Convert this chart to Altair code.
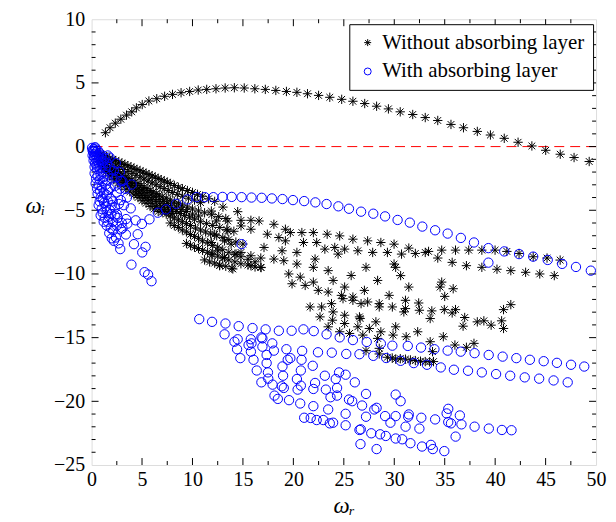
import altair as alt
import pandas as pd

# ---------------- data ----------------
series_names = ["Without absorbing layer", "With absorbing layer"]

# black stars: upper arc
arc_x = [1.37, 1.83, 2.35, 2.90, 3.46, 3.98, 4.44, 5.02, 5.68, 6.46, 7.24, 8.02, 8.87, 9.72,
         10.57, 11.41, 12.33, 13.24, 14.15, 15.13, 16.18, 17.22, 18.26, 19.31, 20.35, 21.40,
         22.50, 23.61, 24.79, 25.90, 27.07, 28.25, 29.42, 30.59, 31.83, 33.07, 34.31, 35.62,
         36.86, 38.23, 39.53, 40.90, 42.27, 43.64, 45.01, 46.45, 47.82, 49.32]
arc_y = [1.09, 1.48, 1.84, 2.15, 2.47, 2.73, 3.04, 3.30, 3.58, 3.76, 3.95, 4.10, 4.23, 4.33,
         4.44, 4.49, 4.54, 4.60, 4.62, 4.60, 4.54, 4.49, 4.41, 4.33, 4.26, 4.15, 4.02, 3.87,
         3.71, 3.56, 3.38, 3.17, 2.96, 2.73, 2.52, 2.28, 2.05, 1.74, 1.48, 1.19, 0.91, 0.65,
         0.34, 0.05, -0.29, -0.60, -0.86, -1.17]

# black stars: dense fan of bands leaving the origin
fan_pts = [
    (0.6, -0.5), (0.9, -0.6), (1.2, -0.7), (1.5, -0.8), (1.8, -0.9), (2.1, -1.0), (2.4, -1.1),
    (2.7, -1.2), (3.0, -1.3), (3.3, -1.4), (3.6, -1.5), (3.9, -1.6), (4.2, -1.7), (4.5, -1.8),
    (4.8, -1.9), (5.1, -2.0), (5.4, -2.1), (5.7, -2.2), (6.0, -2.3), (6.3, -2.4), (6.6, -2.5),
    (6.9, -2.6), (7.2, -2.7), (7.5, -2.8), (7.8, -2.9), (8.2, -3.05), (8.6, -3.2), (9.0, -3.3),
    (9.5, -3.45), (10.0, -3.6), (10.5, -3.75), (11.0, -3.9), (11.6, -4.1), (12.2, -4.3),
    (1.6, -1.15), (2.0, -1.3), (2.4, -1.45), (2.8, -1.6), (3.2, -1.8), (3.6, -1.95), (4.0, -2.1),
    (4.4, -2.25), (4.8, -2.4), (5.2, -2.55), (5.6, -2.7), (6.0, -2.85), (6.4, -3.0), (6.8, -3.15),
    (7.2, -3.3), (7.6, -3.45), (8.0, -3.6), (8.5, -3.75), (9.0, -3.9), (9.6, -4.05), (10.2, -4.2),
    (10.8, -4.4),
    (0.7, -0.8), (1.0, -1.1), (1.3, -1.3), (1.6, -1.5), (1.9, -1.65), (2.2, -1.8), (2.5, -1.95),
    (2.8, -2.1), (3.1, -2.25), (3.4, -2.4), (3.7, -2.5), (4.0, -2.65), (4.3, -2.8), (4.6, -2.9),
    (4.9, -3.05), (5.2, -3.2), (5.5, -3.3), (5.8, -3.45), (6.1, -3.55), (6.4, -3.7), (6.7, -3.8),
    (7.0, -3.95), (7.4, -4.05), (7.8, -4.2), (8.2, -4.35), (8.6, -4.45), (9.0, -4.6), (9.5, -4.75),
    (10.0, -4.9), (10.6, -5.05), (11.2, -5.2), (11.9, -5.35), (12.6, -5.5), (13.3, -5.65),
    (1.9, -1.85), (2.3, -2.05), (2.7, -2.25), (3.1, -2.45), (3.5, -2.65), (3.9, -2.85),
    (4.3, -3.05), (4.7, -3.25), (5.1, -3.4), (5.5, -3.6), (5.9, -3.8), (6.3, -3.95), (6.7, -4.15),
    (7.1, -4.3), (7.5, -4.45), (7.9, -4.6), (8.4, -4.75), (8.9, -4.95), (9.4, -5.1), (10.0, -5.3),
    (10.6, -5.45),
    (0.8, -1.2), (1.1, -1.5), (1.4, -1.75), (1.7, -1.95), (2.0, -2.15), (2.3, -2.3), (2.6, -2.5),
    (2.9, -2.65), (3.2, -2.8), (3.5, -2.95), (3.8, -3.1), (4.1, -3.25), (4.4, -3.4), (4.7, -3.55),
    (5.0, -3.7), (5.3, -3.85), (5.6, -4.0), (6.0, -4.15), (6.4, -4.3), (6.8, -4.5), (7.2, -4.65),
    (7.6, -4.8), (8.0, -4.95), (8.4, -5.1), (8.8, -5.25), (9.2, -5.4), (9.7, -5.55), (10.2, -5.7),
    (10.8, -5.9), (11.4, -6.05), (12.0, -6.2), (12.7, -6.35), (13.4, -6.5), (14.1, -6.65),
    (4.4, -3.65), (4.8, -3.85), (5.2, -4.05), (5.6, -4.25), (6.0, -4.45), (6.4, -4.65),
    (6.8, -4.8), (7.2, -4.95), (7.6, -5.1), (8.0, -5.25),
    (1.0, -1.6), (1.4, -2.0), (1.8, -2.3), (2.2, -2.6), (2.6, -2.85), (3.0, -3.1), (3.4, -3.35),
    (3.8, -3.55), (4.2, -3.8), (4.6, -4.0), (5.0, -4.25), (5.4, -4.45), (5.8, -4.7), (6.2, -4.9),
    (6.6, -5.1), (7.0, -5.15), (7.4, -5.3), (7.8, -5.45), (8.2, -5.6), (8.6, -5.75), (9.0, -5.9),
    (9.4, -6.05), (9.8, -6.2), (10.3, -6.4), (10.8, -6.55), (11.3, -6.7), (11.8, -6.85),
    (12.4, -7.0), (13.0, -7.15), (13.6, -7.3), (14.3, -7.5), (15.0, -7.65),
    (7.8, -6.0), (8.2, -6.2), (8.6, -6.35), (9.0, -6.55), (9.4, -6.7), (9.8, -6.9), (10.2, -7.05),
    (10.6, -7.2), (11.0, -7.4), (11.5, -7.55), (12.0, -7.75), (12.5, -7.9), (13.0, -8.1),
    (13.6, -8.3), (14.2, -8.45), (14.8, -8.65), (15.5, -8.85), (16.2, -9.05),
    (9.4, -7.6), (9.8, -7.75), (10.2, -7.9), (10.6, -8.0), (11.0, -8.15), (11.5, -8.3),
    (12.0, -8.45), (12.5, -8.6), (13.0, -8.75), (13.6, -8.9), (14.2, -9.05), (14.8, -9.2),
    (15.5, -9.3), (16.2, -9.45), (16.8, -9.5),
    (11.2, -8.9), (11.7, -9.05), (12.2, -9.15), (12.7, -9.3), (13.3, -9.4), (13.9, -9.55),
]

# black stars: scattered cloud
cloud_pts = [
    (11.87, -5.06), (13.02, -4.75), (14.48, -5.11), (12.36, -5.84), (13.50, -5.84), (14.81, -5.79),
    (15.79, -5.79), (16.60, -5.84), (12.20, -6.88), (13.50, -6.62), (14.81, -6.23), (15.79, -6.49),
    (13.18, -7.40), (11.87, -7.53), (13.83, -7.66), (12.52, -8.18), (14.32, -8.44), (11.87, -8.44),
    (13.18, -8.70), (14.81, -8.31), (15.79, -8.57), (14.00, -9.61), (12.69, -9.35), (15.79, -9.35),
    (16.77, -9.48), (16.77, -8.75), (17.09, -7.92), (18.07, -6.10), (17.42, -6.88), (18.56, -7.14),
    (19.21, -6.49), (19.70, -6.75), (19.21, -7.40), (18.88, -8.18), (18.07, -8.83), (19.05, -8.96),
    (20.35, -8.31), (20.84, -6.75), (21.00, -7.53), (21.98, -6.75), (22.31, -7.53), (23.12, -8.05),
    (23.35, -6.88), (24.59, -7.01), (24.10, -7.92), (24.43, -8.44), (25.08, -8.05), (25.90, -7.27),
    (26.39, -8.18), (27.36, -7.40), (27.86, -8.31), (28.67, -7.53), (29.32, -8.31), (29.98, -7.66),
    (20.35, -9.22), (19.54, -10.00), (19.87, -10.77), (20.68, -10.25), (21.17, -10.90),
    (21.98, -10.64), (22.15, -8.83), (21.98, -9.48), (23.45, -9.74), (23.94, -10.51),
    (23.45, -11.42), (22.47, -11.29), (25.08, -11.03), (24.76, -11.68), (25.90, -11.81),
    (25.73, -10.12), (27.20, -9.48), (28.35, -10.51), (27.04, -11.29), (29.98, -9.22),
    (29.49, -11.68), (28.51, -12.33), (27.36, -12.20), (26.71, -12.33), (25.90, -12.07),
    (24.92, -11.94), (23.78, -12.33), (22.80, -12.59), (21.66, -12.59), (23.94, -12.98),
    (22.64, -13.37), (25.08, -13.24), (26.55, -13.37), (28.51, -12.59), (29.81, -12.59),
    (31.44, -7.97), (32.09, -8.39), (33.07, -8.31), (33.40, -8.23), (34.70, -8.13), (36.07, -8.13),
    (37.38, -8.13), (38.68, -8.13), (39.99, -8.13), (41.16, -8.23), (42.37, -8.39), (43.77, -8.65),
    (45.14, -8.75), (46.44, -8.91), (30.72, -8.44), (34.31, -8.75), (35.74, -9.09), (37.15, -9.35),
    (38.68, -9.48), (40.18, -9.63), (41.55, -9.74), (43.02, -9.87), (44.42, -10.00), (45.86, -10.13),
    (30.14, -9.48), (30.63, -10.13), (31.44, -11.03), (34.70, -10.64), (34.54, -11.03),
    (35.84, -11.16), (35.00, -11.76), (31.11, -12.07), (31.11, -12.72), (30.95, -12.98),
    (32.42, -12.28), (32.49, -12.85), (33.72, -12.90), (33.56, -13.50), (34.96, -12.80),
    (35.74, -13.06), (36.07, -12.80), (36.98, -13.42), (36.82, -14.10), (38.23, -13.76),
    (38.88, -13.68), (39.60, -14.02), (40.64, -13.68), (40.83, -14.28), (40.83, -12.80),
    (41.55, -12.41), (30.14, -14.15), (31.18, -14.93), (32.32, -14.54), (33.56, -15.32),
    (34.86, -14.93), (36.01, -15.58), (37.15, -15.76), (37.90, -15.45), (33.79, -16.10),
    (23.45, -14.15), (24.59, -14.54), (25.57, -14.67), (26.39, -14.15), (26.62, -13.50),
    (27.53, -14.28), (26.88, -14.80), (28.18, -13.76), (28.67, -14.54), (28.35, -15.06),
    (29.88, -14.80), (23.87, -13.63), (25.08, -13.89), (28.51, -15.84),
    (27.20, -16.02), (28.51, -16.28), (29.32, -16.54), (29.80, -16.60), (30.14, -16.69),
    (30.60, -16.65), (31.11, -16.69), (31.60, -16.75), (32.09, -16.80), (32.60, -16.85),
    (33.07, -16.88), (33.50, -16.90), (33.89, -16.88),
]

# blue circles: upper chain
chain_pts = [
    (6.56, -5.19), (7.37, -4.93), (8.38, -4.49), (9.49, -4.15), (10.40, -3.97), (11.22, -3.97),
    (12.07, -3.97), (12.98, -3.95), (13.89, -3.95), (14.87, -3.97), (15.85, -4.00), (16.86, -4.02),
    (17.87, -4.07), (18.92, -4.12), (19.96, -4.20), (21.07, -4.28), (22.18, -4.38), (23.29, -4.51),
    (24.46, -4.69), (25.51, -4.88), (26.71, -5.11), (27.92, -5.27), (29.09, -5.48), (30.33, -5.76),
    (31.54, -5.97), (32.78, -6.28), (34.05, -6.57), (35.29, -6.83), (36.60, -7.17), (37.90, -7.53),
    (39.33, -7.97), (40.90, -8.23), (42.37, -8.44), (43.77, -8.64), (45.21, -8.90), (46.64, -9.21),
    (48.01, -9.45), (49.48, -9.74), (39.33, -9.11), (14.87, -7.66),
]

# blue circles: cluster near the origin
origin_pts = [
    (0.05, -0.1), (0.2, -0.2), (0.4, -0.15), (0.6, -0.3), (0.15, -0.4), (0.35, -0.05),
    (0.1, -0.3), (0.3, -0.35), (0.45, -0.45), (0.65, -0.65), (0.25, -0.8),
    (0.1, -0.7), (0.3, -0.6), (0.5, -0.7), (0.8, -0.5), (1.0, -0.7), (1.8, -0.86), (1.6, -0.7),
    (0.7, -0.9), (0.35, -1.3), (0.75, -1.4), (1.0, -1.3), (1.3, -0.9), (0.55, -1.75),
    (0.2, -1.1), (0.4, -1.0), (0.6, -1.2), (0.9, -1.0), (1.2, -1.1), (1.5, -1.3), (2.4, -1.3),
    (0.3, -1.6), (0.5, -1.5), (0.8, -1.7), (1.1, -1.5), (1.4, -1.7), (1.8, -1.6), (2.2, -1.9),
    (2.8, -2.0), (0.3, -2.1), (0.6, -2.3), (0.9, -2.2), (1.2, -2.4), (1.6, -2.2), (2.0, -2.5),
    (2.5, -2.4), (2.9, -2.7), (3.06, -2.72), (3.98, -2.98),
    (0.45, -2.5), (0.8, -2.6), (1.1, -2.7), (1.5, -2.6),
    (0.4, -2.9), (0.7, -3.0), (1.0, -3.2), (1.4, -3.0), (1.8, -3.3), (2.3, -3.1), (2.8, -3.3),
    (3.3, -3.3), (0.55, -3.3), (0.85, -3.5), (1.2, -3.6), (1.6, -3.4), (2.5, -3.6),
    (0.6, -3.7), (0.9, -4.0), (1.1, -4.1), (1.5, -3.8), (1.9, -4.1), (2.1, -4.3),
    (2.9, -4.2), (3.5, -4.0), (0.8, -4.3), (1.25, -4.4), (1.6, -4.3), (2.0, -4.6), (2.7, -4.5),
    (0.7, -4.6), (1.0, -4.9), (1.4, -4.7), (1.8, -5.0), (2.3, -4.8),
    (2.5, -5.3), (3.2, -4.6), (3.88, -4.85), (1.1, -5.2), (1.5, -5.1), (1.95, -5.3), (2.3, -5.4),
    (0.9, -5.4), (1.3, -5.6), (1.7, -5.5), (2.1, -5.9), (1.2, -5.9), (1.6, -5.9), (2.5, -6.2),
    (2.6, -5.6), (3.0, -6.0), (3.42, -5.69), (3.55, -6.05), (4.37, -5.79), (5.74, -5.71),
    (1.5, -6.2), (1.9, -6.4), (2.15, -6.57), (3.06, -6.41), (2.9, -6.5), (3.4, -6.9),
    (1.75, -6.8), (2.2, -7.4),
    (4.57, -6.88), (4.99, -6.07), (2.0, -7.2), (2.41, -7.14), (2.67, -7.6), (2.84, -8.05),
    (4.2, -7.66), (5.35, -7.87), (5.02, -8.31), (3.95, -9.27), (5.25, -9.86), (5.60, -10.05),
    (5.94, -10.57),
]

# blue circles: lower bands and scatter
lower_pts = [
    (10.67, -13.55), (11.94, -13.76), (13.27, -13.89), (14.58, -14.10), (15.95, -14.25),
    (17.25, -14.35), (18.56, -14.46), (19.83, -14.46), (21.00, -14.35), (22.02, -14.49),
    (23.29, -14.74), (24.59, -14.98), (25.90, -15.19), (27.27, -15.34), (28.67, -15.47),
    (29.81, -15.63), (31.34, -15.65), (32.65, -15.78), (33.98, -15.91), (35.29, -16.02),
    (36.59, -16.10), (37.96, -16.22), (39.36, -16.36), (40.74, -16.49), (42.10, -16.61),
    (43.44, -16.74), (44.81, -16.85), (46.12, -16.98), (47.52, -17.13), (48.83, -17.27),
    (13.18, -14.74), (15.78, -15.13), (16.93, -15.06), (17.91, -15.45), (19.31, -15.91),
    (20.87, -16.04), (22.44, -16.15), (23.81, -16.18), (25.24, -16.28), (26.55, -16.30),
    (27.92, -16.43), (29.20, -16.60), (30.63, -16.82), (31.93, -17.00), (33.24, -17.13),
    (34.61, -17.34), (35.91, -17.52), (37.31, -17.60), (38.68, -17.73), (40.09, -17.86),
    (41.49, -17.99), (42.93, -18.12), (44.36, -18.22), (45.79, -18.36), (47.19, -18.51),
    (14.16, -15.32), (14.48, -15.13), (14.42, -15.91), (14.74, -16.61), (15.56, -15.58),
    (15.85, -15.45), (15.79, -16.10), (16.05, -16.74), (16.83, -14.98), (16.93, -15.71),
    (17.35, -16.36), (17.35, -17.00), (18.07, -16.02), (16.37, -17.58), (16.83, -18.51),
    (17.48, -17.73), (17.51, -18.22), (17.94, -18.69), (18.13, -19.55), (18.46, -19.81),
    (18.98, -17.99), (18.85, -18.82), (19.05, -18.95), (19.44, -16.74), (19.70, -16.61),
    (18.92, -17.26), (19.57, -19.91), (20.35, -18.25), (20.42, -19.08), (20.68, -20.17),
    (20.74, -17.58), (20.81, -16.74), (20.74, -18.77), (21.92, -17.21), (21.98, -19.03),
    (21.98, -20.38), (22.15, -18.56), (21.07, -21.29), (21.72, -21.31), (22.31, -21.47),
    (22.96, -21.47), (23.12, -17.99), (23.22, -19.08), (23.45, -20.64), (23.61, -21.73),
    (23.94, -21.68), (23.68, -19.68), (24.20, -18.25), (24.33, -18.95), (24.33, -19.55),
    (24.53, -17.73), (25.18, -17.91), (25.18, -21.88), (25.18, -20.98), (25.51, -19.86),
    (25.83, -19.99), (26.09, -18.51), (26.55, -22.25), (26.68, -22.20), (26.65, -23.36),
    (27.20, -19.42), (27.20, -21.21), (26.81, -20.33), (27.72, -22.51), (28.02, -20.64),
    (28.25, -20.51), (28.25, -23.75), (28.60, -22.59), (29.09, -21.16), (29.16, -22.72),
    (29.62, -21.68), (30.14, -19.47), (30.63, -19.99), (30.14, -21.16), (31.44, -21.03),
    (31.38, -21.21), (32.68, -21.29), (34.05, -21.42), (31.12, -21.99), (32.49, -22.14),
    (30.14, -22.92), (30.79, -22.98), (31.60, -23.29), (32.75, -23.55), (33.63, -23.42),
    (33.82, -23.75), (34.96, -23.91), (36.08, -22.77), (35.35, -20.59), (35.19, -20.95),
    (35.35, -21.63), (35.62, -21.73), (36.50, -21.11), (36.66, -21.81), (37.96, -21.99),
    (39.37, -22.14), (40.67, -22.25), (41.62, -22.27),
]

# axis tick values
x_major = [0, 5, 10, 15, 20, 25, 30, 35, 40, 45, 50]
x_minor = [2.5, 7.5, 12.5, 17.5, 22.5, 27.5, 32.5, 37.5, 42.5, 47.5]
y_major = [-25, -20, -15, -10, -5, 0, 5, 10]
y_minor = [v for v in range(-25, 11) if v % 5 != 0]

# ---------------- build tables ----------------
black_pts = list(zip(arc_x, arc_y)) + fan_pts + cloud_pts
blue_pts = chain_pts + origin_pts + lower_pts
rows = [{"wr": x, "wi": y, "series": series_names[0]} for x, y in black_pts]
rows += [{"wr": x, "wi": y, "series": series_names[1]} for x, y in blue_pts]
pts = pd.DataFrame(rows)

W, H = 507, 448
FONT = "Liberation Serif"
STAR = "M -1 0 L 1 0 M 0 -1 L 0 1 M -0.72 -0.72 L 0.72 0.72 M -0.72 0.72 L 0.72 -0.72"

xs = alt.Scale(domain=[0, 50], nice=False, zero=False)
ys = alt.Scale(domain=[-25, 10], nice=False, zero=False)

base_x = alt.X("wr:Q", scale=xs,
               axis=alt.Axis(values=x_major, ticks=False, domain=False, grid=False,
                             labelFlush=False, labelOverlap=False,
                             labelFont=FONT, labelFontSize=20, labelColor="black",
                             labelPadding=5, title="ωᵣ", titleFont=FONT, titleFontSize=23,
                             titleFontStyle="italic", titleFontWeight="normal",
                             titleColor="black", titlePadding=5))
base_y = alt.Y("wi:Q", scale=ys,
               axis=alt.Axis(values=y_major, ticks=False, domain=False, grid=False,
                             labelFlush=False, labelOverlap=False,
                             labelFont=FONT, labelFontSize=20, labelColor="black",
                             labelPadding=7, title="ωᵢ", titleFont=FONT, titleFontSize=23,
                             titleFontStyle="italic", titleFontWeight="normal",
                             titleColor="black", titleAngle=0, titleX=-57, titleY=187,
                             titleAlign="center", titleBaseline="middle"))

points = alt.Chart(pts).mark_point(filled=False, strokeWidth=1, opacity=1, size=88).encode(
    x=base_x,
    y=base_y,
    color=alt.Color("series:N",
                    scale=alt.Scale(domain=series_names, range=["#000000", "#0000FF"]),
                    legend=alt.Legend(title=None, orient="none", legendX=259, legendY=5,
                                      labelFont=FONT, labelFontSize=21, labelColor="black",
                                      symbolSize=49, symbolStrokeWidth=1, labelOffset=4,
                                      padding=8, rowPadding=7, strokeColor="black",
                                      fillColor="white", labelLimit=400)),
    shape=alt.Shape("series:N", scale=alt.Scale(domain=series_names, range=[STAR, "circle"])),
)

zero_line = alt.Chart(pd.DataFrame({"wi": [0]})).mark_rule(
    color="#FF0000", strokeDash=[10, 6], strokeWidth=1).encode(y=alt.Y("wi:Q", scale=ys))

xmaj = pd.DataFrame({"wr": x_major[1:-1]})
xmin = pd.DataFrame({"wr": x_minor})
ymaj = pd.DataFrame({"wi": y_major[1:-1]})
ymin = pd.DataFrame({"wi": y_minor})


def xticks(df, L):
    b = alt.Chart(df).mark_rule(color="black", strokeWidth=1)
    return [b.encode(x=alt.X("wr:Q", scale=xs), y=alt.value(H), y2=alt.value(H - L)),
            b.encode(x=alt.X("wr:Q", scale=xs), y=alt.value(0), y2=alt.value(L))]


def yticks(df, L):
    b = alt.Chart(df).mark_rule(color="black", strokeWidth=1)
    return [b.encode(y=alt.Y("wi:Q", scale=ys), x=alt.value(0), x2=alt.value(L)),
            b.encode(y=alt.Y("wi:Q", scale=ys), x=alt.value(W), x2=alt.value(W - L))]


ticks = xticks(xmaj, 7) + xticks(xmin, 4) + yticks(ymaj, 7) + yticks(ymin, 4)

chart = alt.layer(zero_line, *ticks, points).properties(
    width=W, height=H,
    autosize=alt.AutoSizeParams(type="none"),
    padding={"left": 84, "top": 10, "right": 12, "bottom": 56},
).configure_view(stroke="black", strokeWidth=1).configure(background="white")

chart.save("out.html", embed_options={"renderer": "svg", "actions": False})
